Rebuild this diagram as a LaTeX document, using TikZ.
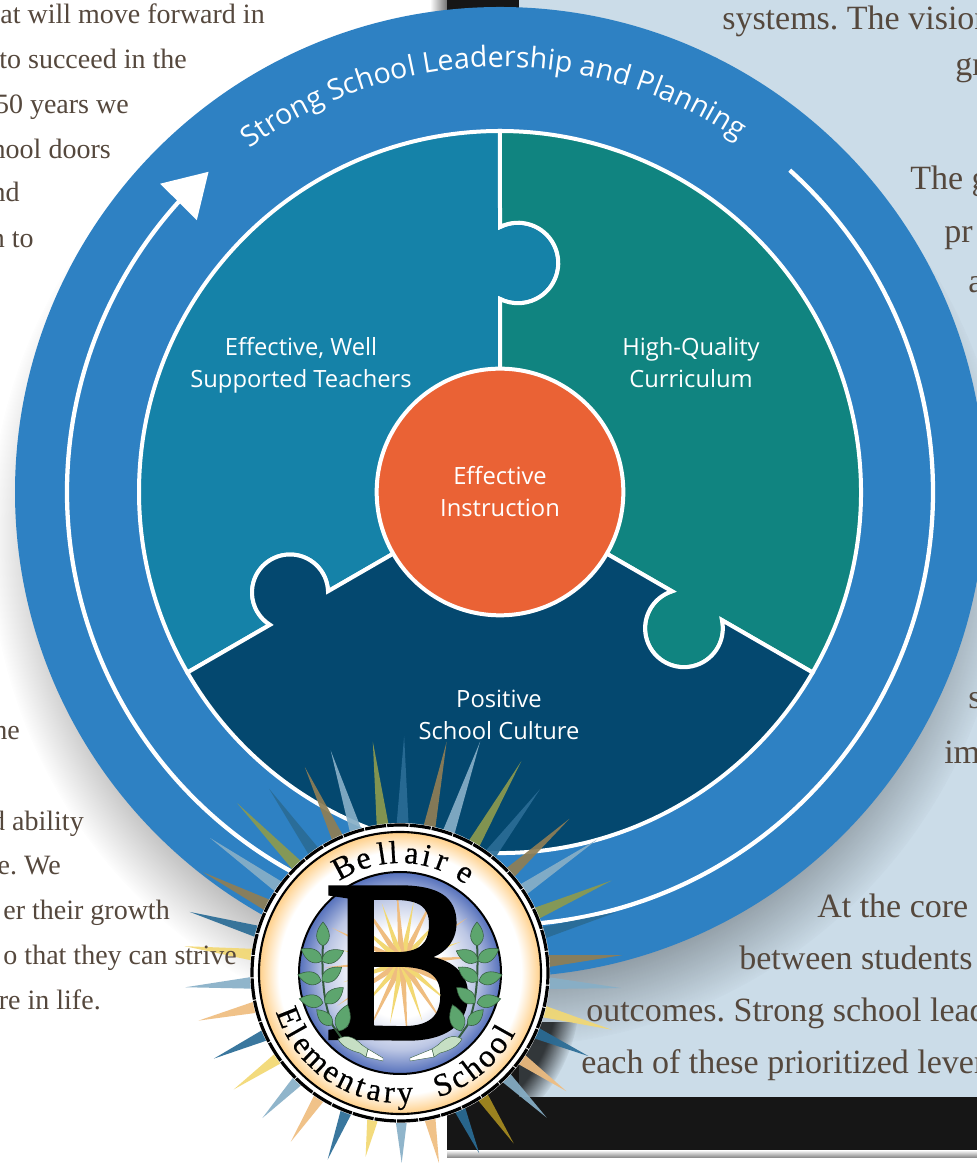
\documentclass[tikz,border=0pt]{standalone}
\usepackage{fontspec}
\setmainfont{Liberation Serif}
\setsansfont{Open Sans}
\newfontfamily\crestfont[FakeBold=2]{Liberation Serif}
\newfontfamily\letterfont[FakeBold=.5]{Liberation Serif}
\usetikzlibrary{arrows.meta}
\usetikzlibrary{bending}
\usetikzlibrary{decorations.text}
\usetikzlibrary{fadings}
\definecolor{discblue}{HTML}{2E81C3}
\definecolor{tealpiece}{HTML}{1582A8}
\definecolor{greenpiece}{HTML}{108480}
\definecolor{navypiece}{HTML}{04486F}
\definecolor{corecircle}{HTML}{EA6235}
\definecolor{panelblue}{HTML}{CBDCE8}
\definecolor{bodybrown}{HTML}{55483D}
\definecolor{framedark}{HTML}{161616}
\definecolor{raydark}{HTML}{2A6C96}
\definecolor{raytan}{HTML}{8F7E55}
\definecolor{raylight}{HTML}{87AFC7}
\definecolor{rayolive}{HTML}{8C9A4E}
\definecolor{rayyellow}{HTML}{F2D873}
\definecolor{rayorange}{HTML}{EFBD80}
\definecolor{raygold}{HTML}{A78C20}
\definecolor{leafgreen}{HTML}{5DA56E}
\definecolor{stemgreen}{HTML}{C6DFC4}
\definecolor{logoedge}{HTML}{FFCF88}
\definecolor{globeblue}{HTML}{5570BB}
\pgfdeclareradialshading{bandshade}{\pgfpoint{0bp}{0bp}}{color(0bp)=(white); color(21.5bp)=(white); color(25bp)=(logoedge); color(50bp)=(logoedge)}
\pgfdeclareradialshading{globeshade}{\pgfpoint{0bp}{0bp}}{color(0bp)=(white); color(11bp)=(white); color(19bp)=(globeblue!40); color(25bp)=(globeblue); color(50bp)=(globeblue)}
\newcommand{\leafat}[3]{\fill[leafgreen,draw=leafgreen!55!black,line width=.4pt,shift={(#1)},rotate=#2,scale=#3] (0,0) .. controls (5,9) and (15,8) .. (24,0) .. controls (15,-8) and (5,-9) .. (0,0);}
\begin{document}
\begin{tikzpicture}
    [
    x=0.75pt,y=0.75pt,
    piece/.style={draw=white,line width=3pt,line join=miter},
    label/.style={text=white,font=\sffamily\fontsize{17.8}{24}\selectfont,align=center},
    bodyleft/.style={text=bodybrown,anchor=base east,inner sep=0pt,font=\frenchspacing\fontsize{21}{21}\selectfont},
    bodyright/.style={text=bodybrown,anchor=base west,inner sep=0pt,font=\frenchspacing\fontsize{25.5}{25.5}\selectfont},
    logoletter/.style={font=\letterfont\fontsize{24}{24}\selectfont,inner sep=0pt,anchor=base}
    ]
    \useasboundingbox (0,0) rectangle (977,1163);
    \fill[white] (0,0) rectangle (977,1163);

    \shade[left color=white,right color=black!55] (430,1090) rectangle (447,1163);
    \shade[top color=white,bottom color=black!50] (447,5) rectangle (977,13);
    \fill[framedark] (447,13) rectangle (977,1163);
    \fill[panelblue] (519,66) rectangle (977,1163);

    \coordinate (ctr) at (500,671);
    \coordinate (logo) at (400,190);

    \begin{scope}
      \clip (519,66) rectangle (600,140);
      \fill[black,opacity=.75,path fading=circle with fuzzy edge 15 percent] (415,170) circle (165);
    \end{scope}
    \fill[black,opacity=.3,path fading=circle with fuzzy edge 15 percent] (500,626) circle (510);
    \fill[discblue] (ctr) circle (485);

    \path[decorate,decoration={text along path,text align=center,
      text={|\sffamily\fontsize{21.4}{21.4}\selectfont\color{white}|Strong School Leadership and Planning}}]
      ([shift={(132:425)}]ctr) arc[start angle=132,end angle=50,radius=425];

    \draw[white,line width=3.2pt,-{Triangle[length=32pt,width=38pt,flex]}]
      ([shift={(48:433)}]ctr) arc[start angle=48,end angle=-227.7,radius=433];

    % puzzle pieces
    \fill[tealpiece,piece] (ctr) -- (500,864) arc[start angle=243.4,end angle=476.6,radius=40.25]
      -- (500,1032) arc[start angle=90,end angle=210,radius=361]
      -- (270,538.2) arc[start angle=238.2,end angle=1.8,radius=38] -- cycle;
    \fill[greenpiece,piece] (ctr) -- (672,571.7) arc[start angle=108,end angle=372,radius=38.9]
      -- (812.6,490.5) arc[start angle=-30,end angle=90,radius=361]
      -- (500,936) arc[start angle=116.6,end angle=-116.6,radius=40.25] -- cycle;
    \fill[navypiece,piece] (ctr) -- (328,571.7) arc[start angle=1.8,end angle=238.2,radius=38]
      -- (187.4,490.5) arc[start angle=210,end angle=330,radius=361]
      -- (722,542.8) arc[start angle=12,end angle=-252,radius=38.9] -- cycle;

    \node (core) at (ctr) [circle,fill=corecircle,draw=white,line width=3pt,minimum size=185pt,label] {Effective\\Instruction};
    \node (teachers) at (301,798) [label] {Effective, Well\\Supported Teachers};
    \node (curriculum) at (691,800) [label] {High-Quality\\Curriculum};
    \node (culture) at (499,448) [label] {Positive\\School Culture};

    \foreach \ang/\len/\rcol in {
      89/237/raydark,78.6/236/raytan,70.9/245/raylight,60.2/244/rayolive,52.7/231/raydark,42.3/229/raytan,
      34.1/238/raylight,23.6/231/rayolive,15.7/225/raydark,4.6/223/raytan,-3.9/222/raylight,-15/219/rayyellow,
      -23.8/206/raydark,-35.4/204/rayorange,-44.6/206/raylight,-56.3/205/raygold,-66.3/197/raydark,-78.4/194/rayorange,
      -89.5/190/raylight,-100.6/187/rayyellow,-111.2/200/raydark,-122.9/201/rayorange,-133.5/200/raylight,-145/203/rayyellow,
      -155.3/205/raydark,-166.7/207/rayorange,-176.2/215/raylight,172.9/217/rayyellow,163.8/219/raydark,152.9/221/raytan,
      144.6/233/raylight,133.8/235/rayolive,125.4/226/raydark,114.8/227/raytan,107.3/233/raylight,96.7/233/rayolive}
      \fill[\rcol,opacity=.92] ([shift={(\ang-2.6:142)}]logo) -- ([shift={(\ang:\len)}]logo) -- ([shift={(\ang+2.6:142)}]logo) -- cycle;

    \fill[white] (logo) circle (150);
    \draw[black,line width=2.4pt,dash pattern=on 16pt off .8pt] (logo) circle (148);
    \shade[shading=bandshade] (logo) circle (141);
    \draw[black,line width=1.6pt] (logo) circle (141);
    \shade[shading=globeshade] (logo) circle (101);
    \draw[black,line width=1.5pt] (logo) circle (101);

    \foreach \i in {0,1,...,23}{
      \pgfmathsetmacro\starang{\i*15+4}
      \pgfmathsetmacro\starlen{mod(\i,2)==0 ? 78 : 62}
      \pgfmathtruncatemacro\staridx{mod(\i,2)}
      \ifnum\staridx=0 \colorlet{starcol}{rayorange}\else\colorlet{starcol}{rayyellow}\fi
      \fill[starcol] ([shift={(\starang-90:3.5)}]402,201) -- ([shift={(\starang:\starlen)}]402,201) -- ([shift={(\starang+90:3.5)}]402,201) -- cycle;
    }

    \node (bigb) at (400.5,200) [font=\crestfont\fontsize{172}{172}\selectfont,inner sep=0pt] {B};

    \foreach \flip/\tipx in {1/-17,-1/-10}{
      \begin{scope}[shift={(logo)},xscale=\flip]
        \draw[leafgreen!55!black,line width=1.5pt] (-57,-67) .. controls (-62,-60) and (-64,-57) .. (-67,-53) .. controls (-75,-35) and (-79,-10) .. (-77,30);
        \leafat{-77,27}{90}{1}
        \leafat{-78,12}{150}{1}
        \leafat{-78,12}{25}{1}
        \leafat{-79,-8}{165}{1}
        \leafat{-78,-8}{35}{1}
        \leafat{-77,-30}{170}{1}
        \leafat{-75,-30}{40}{1}
        \leafat{-68,-52}{135}{.9}
        \leafat{-61,-58}{72}{1.15}
        \fill[stemgreen,draw=leafgreen!55!black,line width=.3pt] (-62,-66) .. controls (-52,-60) and (-44,-66) .. (-38,-72) -- (-32,-76) -- (-34,-84) -- (-40,-80) .. controls (-48,-78) and (-58,-74) .. (-62,-66) -- cycle;
        \fill[white,draw=leafgreen!55!black,line width=.3pt] (-32,-76) -- (\tipx,-85) -- (\tipx,-88) -- (-34,-84) -- cycle;
      \end{scope}
    }

    \foreach \ch/\ang [count=\i] in {B/118,e/107.9,l/98.7,l/93.2,a/84.4,i/77.1,r/69.5,e/57}
      \node (top\i) at ([shift={(\ang:110)}]logo) [logoletter,rotate=\ang-90] {\ch};
    \foreach \ch/\ang [count=\i] in {E/201.7,l/209.5,e/216.4,m/226,e/235.5,n/243.6,t/250.8,a/257.7,r/264.9,y/272.4,S/291,c/299.2,h/307.2,o/315.4,o/323.6,l/330.7}
      \node (bot\i) at ([shift={(\ang:130)}]logo) [logoletter,rotate=\ang+90] {\ch};

    \node (lefta) at (265,1139) [bodyleft] {hat will move forward in};
    \node (leftb) at (187,1094) [bodyleft] {to succeed in the};
    \node (leftc) at (129,1049) [bodyleft] {50 years we};
    \node (leftd) at (111,1004) [bodyleft] {hool doors};
    \node (lefte) at (20,961) [bodyleft] {nd};
    \node (leftf) at (34,915) [bodyleft] {n to};
    \node (leftg) at (20,423) [bodyleft] {he};
    \node (lefth) at (84,332) [bodyleft] {d ability};
    \node (lefti) at (61,288) [bodyleft] {e. We};
    \node (leftj) at (170,243) [bodyleft] {er their growth};
    \node (leftk) at (237,198) [bodyleft] {o that they can strive};
    \node (leftl) at (101,153) [bodyleft] {re in life.};

    \node (righta) at (722,1133) [bodyright] {systems. The vision};
    \node (rightb) at (955,1087) [bodyright] {gr};
    \node (rightc) at (910,973) [bodyright] {The g};
    \node (rightd) at (944,920) [bodyright] {pr};
    \node (righte) at (968,870) [bodyright] {a};
    \node (rightf) at (968,454) [bodyright] {s};
    \node (rightg) at (944,399) [bodyright] {im};
    \node (righth) at (817,245) [bodyright] {At the core};
    \node (righti) at (739,193) [bodyright] {between students};
    \node (rightj) at (586,141) [bodyright] {outcomes. Strong school lead};
    \node (rightk) at (581,89) [bodyright] {each of these prioritized lever};
  \end{tikzpicture}
\end{document}
